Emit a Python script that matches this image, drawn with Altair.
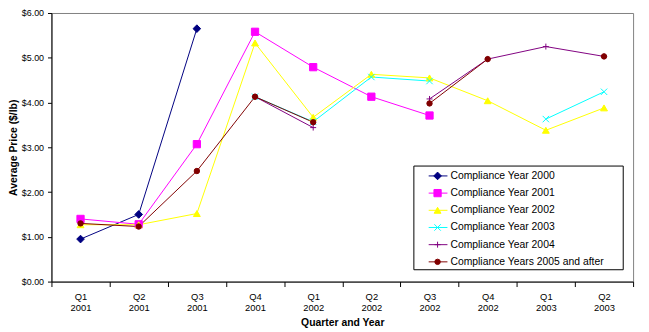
import altair as alt
import pandas as pd

quarters = ["Q1 2001", "Q2 2001", "Q3 2001", "Q4 2001", "Q1 2002",
            "Q2 2002", "Q3 2002", "Q4 2002", "Q1 2003", "Q2 2003"]

series_names = ["Compliance Year 2000", "Compliance Year 2001", "Compliance Year 2002",
                "Compliance Year 2003", "Compliance Year 2004", "Compliance Years 2005 and after"]

y2000 = [0.95, 1.50, 5.65, None, None, None, None, None, None, None]
y2001 = [1.40, 1.28, 3.07, 5.58, 4.79, 4.13, 3.71, None, None, None]
y2002 = [1.27, 1.27, 1.52, 5.33, 3.67, 4.63, 4.55, 4.04, 3.38, 3.88]
y2003 = [None, None, None, 4.13, 3.57, 4.57, 4.48, None, 3.63, 4.24]
y2004 = [None, None, None, 4.13, 3.44, None, 4.08, 4.97, 5.25, 5.03]
y2005 = [1.30, 1.23, 2.47, 4.13, 3.56, None, 3.98, 4.97, None, 5.03]

colors = ["#000080", "#FF00FF", "#FFFF00", "#00FFFF", "#800080", "#800000"]
shapes = ["diamond", "square", "triangle-up",
          "M-1,-1L1,1M-1,1L1,-1", "M-1,0L1,0M0,-1L0,1", "circle"]
sizes = [60, 30, 36, 30, 70, 55]

all_series = [y2000, y2001, y2002, y2003, y2004, y2005]
rows = []
for name, vals in zip(series_names, all_series):
    for q, v in zip(quarters, vals):
        rows.append({"series": name, "quarter": q, "price": v})
df = pd.DataFrame(rows)

FONT = "Liberation Sans"

color_scale = alt.Scale(domain=series_names, range=colors)
shape_scale = alt.Scale(domain=series_names, range=shapes)
size_scale = alt.Scale(domain=series_names, range=sizes)

x_enc = alt.X("quarter:N", sort=quarters, bandPosition=0.5,
              scale=alt.Scale(type="band", domain=quarters, paddingInner=0, paddingOuter=0),
              axis=alt.Axis(title="Quarter and Year", tickBand="extent",
                            labelExpr="split(datum.label, ' ')", labelAngle=0,
                            labelFont=FONT, labelFontSize=9.5, labelColor="black",
                            labelLineHeight=11, labelPadding=5,
                            tickSize=5, tickColor="black", domainColor="black",
                            titleFont=FONT, titleFontSize=10.5, titleFontWeight="bold",
                            titleColor="black", titlePadding=6, grid=False))
y_axis = alt.Axis(title="Average Price ($/lb)", values=[0, 1, 2, 3, 4, 5, 6],
                  labelExpr="'$' + format(datum.value, '.2f')",
                  labelFont=FONT, labelFontSize=9, labelColor="black",
                  labelPadding=4, tickSize=4, tickColor="black",
                  domainColor="black", grid=False,
                  titleFont=FONT, titleFontSize=10.5, titleFontWeight="bold",
                  titleColor="black", titlePadding=3)
y_enc = alt.Y("price:Q", scale=alt.Scale(domain=[0, 6], nice=False, zero=True), axis=y_axis)

lines = alt.Chart(df).mark_line(strokeWidth=1).encode(
    x=x_enc, y=y_enc,
    color=alt.Color("series:N", scale=color_scale, legend=None),
    order=alt.Order("qi:Q"),
).transform_calculate(qi="indexof(" + str(quarters) + ", datum.quarter)")

points = alt.Chart(df).transform_filter("isValid(datum.price)").mark_point(
    filled=True, strokeWidth=1, opacity=1).encode(
    x=x_enc, y=y_enc,
    color=alt.Color("series:N", scale=color_scale, legend=None),
    stroke=alt.Stroke("series:N", scale=color_scale, legend=None),
    shape=alt.Shape("series:N", scale=shape_scale, legend=None),
    size=alt.Size("series:N", scale=size_scale, legend=None),
)

main = alt.layer(lines, points)

legend_df = pd.DataFrame({"series": series_names})
legend_y = alt.Scale(type="point", domain=series_names, range=[165, 252], padding=0)

box = alt.Chart(pd.DataFrame({"b": [0]})).mark_rect(
    fill="white", stroke="black", strokeWidth=1).encode(
    x=alt.value(367), x2=alt.value(579), y=alt.value(155), y2=alt.value(260))

lrules = alt.Chart(legend_df).mark_rule(strokeWidth=1).encode(
    x=alt.value(382), x2=alt.value(401),
    y=alt.Y("series:N", scale=legend_y, axis=None),
    color=alt.Color("series:N", scale=color_scale, legend=None))

lpoints = alt.Chart(legend_df).mark_point(filled=True, strokeWidth=1, opacity=1).encode(
    x=alt.value(391),
    y=alt.Y("series:N", scale=legend_y, axis=None),
    color=alt.Color("series:N", scale=color_scale, legend=None),
    stroke=alt.Stroke("series:N", scale=color_scale, legend=None),
    shape=alt.Shape("series:N", scale=shape_scale, legend=None),
    size=alt.Size("series:N", scale=size_scale, legend=None))

ltext = alt.Chart(legend_df).mark_text(
    align="left", baseline="middle", font=FONT, fontSize=10.5, color="black").encode(
    x=alt.value(404),
    y=alt.Y("series:N", scale=legend_y, axis=None),
    text="series:N")

legend = alt.layer(box, lrules, lpoints, ltext)

chart = alt.layer(main, legend).resolve_scale(y="independent").properties(
    width=589, height=272,
    autosize=alt.AutoSizeParams(type="none"),
    padding={"left": 44, "top": 3, "right": 8, "bottom": 50},
    background="white",
).configure_view(stroke="#808080", strokeWidth=1)

chart.save("out.html", embed_options={"renderer": "svg", "actions": False})
